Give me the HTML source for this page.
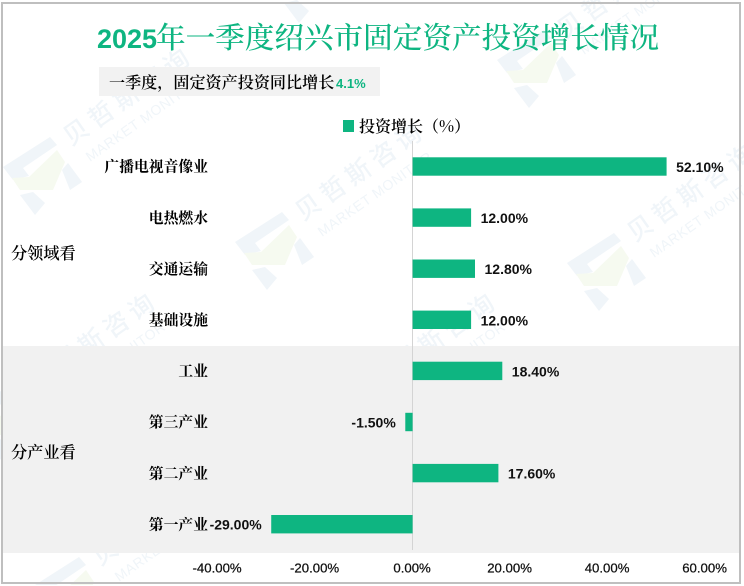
<!DOCTYPE html>
<html lang="zh-CN">
<head>
<meta charset="utf-8">
<title>2025年一季度绍兴市固定资产投资增长情况</title>
<style>
html,body{margin:0;padding:0;background:#fff;width:744px;height:586px;overflow:hidden}
svg{display:block}
.cjk{font-family:"Noto Serif CJK SC","Liberation Serif",serif}
.lat{font-family:"Liberation Sans",sans-serif}
.wm{font-family:"Noto Sans CJK SC","Liberation Sans",sans-serif}
</style>
</head>
<body>
<svg id="chart" width="744" height="586" viewBox="0 0 744 586" xmlns="http://www.w3.org/2000/svg">
  <g id="watermarks"></g>
  <g>
    <polygon points="35.1,585 79,557 86,565 56.4,585" fill="#f0f5f9"/>
    <polygon points="70.4,585 86,570 94,582 92.7,585" fill="#f6faf0"/>
  </g>
  <rect x="3" y="346" width="736" height="207" fill="#f1f1f1"/>
  <rect x="2" y="3" width="738" height="580" fill="none" stroke="#bfbfbf" stroke-width="2"/>
  <text x="97" y="48" fill="#0eb581"><tspan class="lat" font-size="27" font-weight="700">2025</tspan><tspan class="cjk" x="156" font-size="29.6" font-weight="500">年一季度绍兴市固定资产投资增长情况</tspan></text>
  <rect x="99" y="67" width="281" height="29" fill="#f2f2f2"/>
  <text x="109" y="88" fill="#000"><tspan class="cjk" font-size="16.1" font-weight="600">一季度，固定资产投资同比增长</tspan><tspan class="lat" x="336" font-size="13" font-weight="700" fill="#0eb581">4.1%</tspan></text>
  <rect x="343" y="120" width="11" height="12" fill="#0eb581"/>
  <text x="359" y="132" class="cjk" font-size="16" font-weight="600" fill="#000">投资增长（%）</text>
  <text x="11" y="259" class="cjk" font-size="16.2" font-weight="600" fill="#000">分领域看</text>
  <text x="11" y="458" class="cjk" font-size="16.2" font-weight="600" fill="#000">分产业看</text>
  <g id="plot"></g>
</svg>
<script>
const categories = ['广播电视音像业','电热燃水','交通运输','基础设施','工业','第三产业','第二产业','第一产业'];
const growthValues = [52.1, 12.0, 12.8, 12.0, 18.4, -1.5, 17.6, -29.0];
const valueLabels = ['52.10%','12.00%','12.80%','12.00%','18.40%','-1.50%','17.60%','-29.00%'];
const tickValues = [-40, -20, 0, 20, 40, 60];
const tickLabels = ['-40.00%','-20.00%','0.00%','20.00%','40.00%','60.00%'];

const NS = 'http://www.w3.org/2000/svg';
const xScale = function (v) { return 412.6 + v * 4.875; };
const yScale = function (i) { return 166.5 + i * 51.1; };
const plot = document.getElementById('plot');

function make(tag, attrs, text) {
  const el = document.createElementNS(NS, tag);
  Object.keys(attrs).forEach(function (k) { el.setAttribute(k, attrs[k]); });
  if (text !== undefined) el.textContent = text;
  return el;
}

const axisLine = make('line', {x1: 412.5, x2: 412.5, y1: 141, y2: 550, stroke: '#d4d4d4', 'stroke-width': 1});


plot.appendChild(axisLine);

categories.forEach(function (name, i) {
  const v = growthValues[i];
  const y = yScale(i);
  const x0 = xScale(Math.min(v, 0));
  const x1 = xScale(Math.max(v, 0));
  const bar = make('rect', {x: x0, y: y - 9.2, width: x1 - x0, height: 18.4, fill: '#0eb581'});
  
  
  plot.appendChild(bar);

  const cat = make('text', {x: 208, y: y + 5.2, 'text-anchor': 'end', 'font-size': 14.8, 'font-weight': 700, fill: '#000', class: 'cjk'}, name);
  
  
  plot.appendChild(cat);

  const labelX = v >= 0 ? x1 + 9.5 : x0 - 9.5;
  const val = make('text', {x: labelX, y: y + 5.5, 'text-anchor': v >= 0 ? 'start' : 'end', 'font-size': 14, 'font-weight': 700, fill: '#111', class: 'lat'}, valueLabels[i]);
  
  
  plot.appendChild(val);
});

tickValues.forEach(function (t, i) {
  const tick = make('text', {x: xScale(t) - 0.5, y: 572.5, 'text-anchor': 'middle', 'font-size': 13.2, fill: '#111', stroke: '#111', 'stroke-width': 0.25, class: 'lat'}, tickLabels[i]);
  
  
  plot.appendChild(tick);
});

/* decorative background watermark */
const wmSpots = [[43,172],[275,247],[607,268],[537,65],[307,-20],[8,417],[348,417],[72,592]];
const wmLayer = document.getElementById('watermarks');
wmSpots.forEach(function (p, i) {
  const g = make('g', {transform: 'translate(' + p[0] + ' ' + p[1] + ')'});
  
  
  if (p[1] < 500) {
    g.appendChild(make('polygon', {points: '-40,-5 7,-35 14,-27 -20,-4 -14,4 -30,8', fill: '#f0f5f9'}));
    g.appendChild(make('polygon', {points: '-31,6 -14,5 14,-22 22,-10 10,18 -23,18', fill: '#f6faf0'}));
    g.appendChild(make('polygon', {points: '-23,23 -10,20 2,31 -8,43', fill: '#f0f5f9'}));
    g.appendChild(make('polygon', {points: '19,-2 25,-9 39,10 27,18', fill: '#f0f5f9'}));
  }
  g.appendChild(make('text', {transform: 'translate(28 -25.5) rotate(-35)', 'font-size': 25, 'letter-spacing': 5.5, fill: '#f0f5f9', class: 'wm', 'font-weight': 500}, '贝哲斯咨询'));
  g.appendChild(make('text', {transform: 'translate(47 -10) rotate(-35)', 'font-size': 14, 'letter-spacing': 0.6, fill: '#f0f5f9', class: 'lat'}, 'MARKET MONITOR'));
  wmLayer.appendChild(g);
});
</script>
</body>
</html>
